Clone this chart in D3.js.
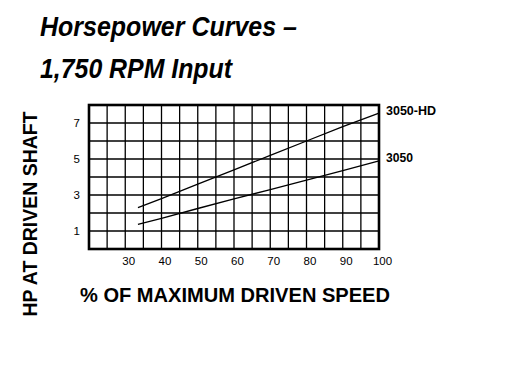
<!DOCTYPE html>
<html>
<head>
<meta charset="utf-8">
<script src="https://cdn.jsdelivr.net/npm/d3@7"></script>
<style>
  body { margin: 0; background: #fff; }
  text { font-family: "Liberation Sans", Arial, sans-serif; fill: #000; }
</style>
</head>
<body>
<div id="chartdiv"></div>
<script>
// values
var speedPct = [33.5, 40, 50, 60, 70, 80, 90, 100];
var hp3050HD = [2.3, 2.8, 3.6, 4.4, 5.2, 6.0, 6.8, 7.55];
var hp3050   = [1.37, 1.7, 2.25, 2.78, 3.3, 3.83, 4.36, 4.9];
var seriesNames = ["3050-HD", "3050"];
var xTicks = [30, 40, 50, 60, 70, 80, 90, 100];
var yTicks = [1, 3, 5, 7];

var svgContainer = d3.select("div#chartdiv").append("svg")
                     .attr("width", 525)
                     .attr("height", 371);

var plotLeft = 89, plotRight = 379, plotTop = 105, plotBottom = 249;

var x = d3.scaleLinear().domain([20, 100]).range([plotLeft, plotRight]);
var y = d3.scaleLinear().domain([0, 8]).range([plotBottom, plotTop]);

// title
var title = svgContainer.append("g")
    .attr("font-weight", "bold")
    .attr("font-style", "italic")
    .attr("font-size", 28.5);
title.append("text").attr("x", 40).attr("y", 35.5)
    .attr("textLength", 257).attr("lengthAdjust", "spacingAndGlyphs")
    .text("Horsepower Curves \u2013");
title.append("text").attr("x", 40).attr("y", 77.5)
    .attr("textLength", 192).attr("lengthAdjust", "spacingAndGlyphs")
    .text("1,750 RPM Input");

// grid
var vgrid = d3.range(25, 100, 5);
var hgrid = d3.range(1, 8, 1);

svgContainer.selectAll("line.vgrid")
    .data(vgrid).enter().append("line")
    .attr("class", "vgrid")
    .attr("x1", function (d) { return x(d); })
    .attr("x2", function (d) { return x(d); })
    .attr("y1", plotTop).attr("y2", plotBottom)
    .attr("stroke", "#000").attr("stroke-width", 1.3);

svgContainer.selectAll("line.hgrid")
    .data(hgrid).enter().append("line")
    .attr("class", "hgrid")
    .attr("x1", plotLeft).attr("x2", plotRight)
    .attr("y1", function (d) { return y(d); })
    .attr("y2", function (d) { return y(d); })
    .attr("stroke", "#000").attr("stroke-width", 1.3);

svgContainer.append("rect")
    .attr("x", plotLeft).attr("y", plotTop)
    .attr("width", plotRight - plotLeft).attr("height", plotBottom - plotTop)
    .attr("fill", "none").attr("stroke", "#000").attr("stroke-width", 2.6);

// axes (labels only)
var xAxis = svgContainer.append("g")
    .attr("transform", "translate(0," + plotBottom + ")")
    .call(d3.axisBottom(x).tickValues(xTicks).tickSize(0).tickPadding(8));
xAxis.select(".domain").remove();
xAxis.selectAll("text")
    .attr("dx", 3)
    .attr("font-size", 11.5)
    .attr("font-family", "Liberation Sans, Arial, sans-serif");

var yAxis = svgContainer.append("g")
    .attr("transform", "translate(" + plotLeft + ",0)")
    .call(d3.axisLeft(y).tickValues(yTicks).tickSize(0).tickPadding(9));
yAxis.select(".domain").remove();
yAxis.selectAll("text")
    .attr("font-size", 11.5)
    .attr("font-family", "Liberation Sans, Arial, sans-serif");

// curves
var series = [hp3050HD, hp3050];
var line = d3.line()
    .x(function (d, i) { return x(speedPct[i]); })
    .y(function (d) { return y(d); });

svgContainer.selectAll("path.curve")
    .data(series).enter().append("path")
    .attr("class", "curve")
    .attr("d", line)
    .attr("fill", "none")
    .attr("stroke", "#000")
    .attr("stroke-width", 1.3);

svgContainer.selectAll("text.serieslabel")
    .data(series).enter().append("text")
    .attr("class", "serieslabel")
    .attr("x", plotRight + 7)
    .attr("y", function (d) { return y(d[d.length - 1]) + 1.5; })
    .attr("font-weight", "bold")
    .attr("font-size", 13.5)
    .attr("textLength", function (d, i) { return i === 0 ? 50 : 27; })
    .attr("lengthAdjust", "spacingAndGlyphs")
    .text(function (d, i) { return seriesNames[i]; });

// axis titles
svgContainer.append("text")
    .attr("x", 235).attr("y", 302)
    .attr("text-anchor", "middle")
    .attr("font-weight", "bold")
    .attr("font-size", 20.5)
    .attr("textLength", 310).attr("lengthAdjust", "spacingAndGlyphs")
    .text("% OF MAXIMUM DRIVEN SPEED");

svgContainer.append("text")
    .attr("transform", "translate(36.5,214) rotate(-90)")
    .attr("text-anchor", "middle")
    .attr("font-weight", "bold")
    .attr("font-size", 19.5)
    .attr("textLength", 205).attr("lengthAdjust", "spacingAndGlyphs")
    .text("HP AT DRIVEN SHAFT");
</script>
</body>
</html>
